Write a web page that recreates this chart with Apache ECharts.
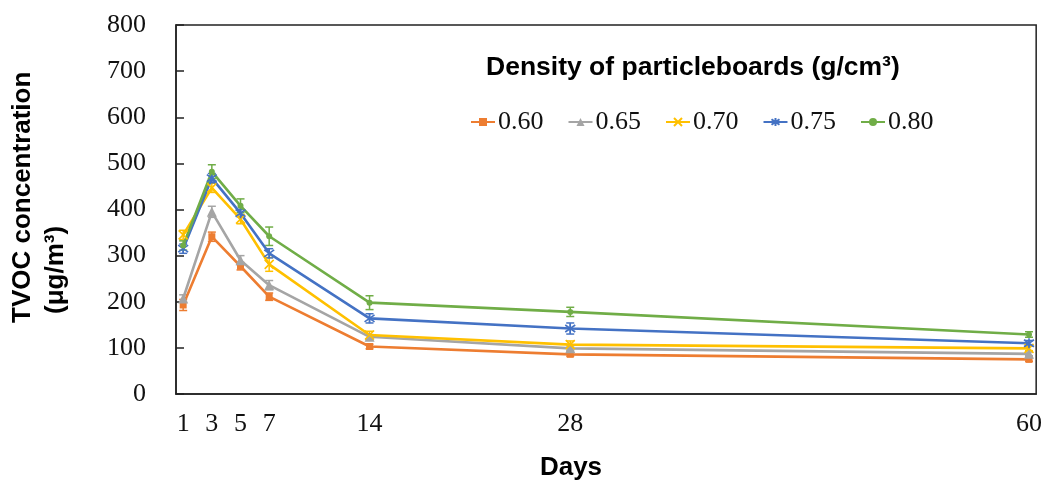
<!DOCTYPE html>
<html>
<head>
<meta charset="utf-8">
<script src="https://cdn.jsdelivr.net/npm/echarts@6/dist/echarts.min.js"></script>
<style>
    html, body { margin: 0; padding: 0; background: #fff; }
    #chart { width: 1045px; height: 481px; }
</style>
</head>
<body>
<div id="chart"></div>
<script type="text/javascript">
    // sampling days
    var days = [1, 3, 5, 7, 14, 28, 60];
    var dayTicks = [1, 3, 5, 7, 14, 28, 60];

    // TVOC concentration (ug/m3) per density
    var names = ['0.60', '0.65', '0.70', '0.75', '0.80'];
    var s060 = [193, 341, 277, 211, 103, 86, 75];
    var s065 = [207, 395, 290, 236, 124, 99, 87];
    var s070 = [345, 447, 379, 281, 128, 107, 99];
    var s075 = [315, 468, 392, 305, 164, 142, 110];
    var s080 = [322, 482, 408, 342, 198, 178, 129];

    // error bar half-heights
    var e060 = [12, 10, 8, 8, 5, 4, 4];
    var e065 = [8, 12, 10, 10, 5, 5, 4];
    var e070 = [10, 10, 10, 15, 8, 8, 5];
    var e075 = [10, 10, 8, 10, 10, 12, 6];
    var e080 = [10, 15, 15, 20, 15, 10, 6];

    var values = [s060, s065, s070, s075, s080];
    var errors = [e060, e065, e070, e075, e080];
    var colors = ['#ED7D31', '#A5A5A5', '#FFC000', '#4472C4', '#70AD47'];
    var symbols = [
        'rect',
        'triangle',
        'path://M0,0L10,10M10,0L0,10',
        'path://M5,0L5,10M0,1.5L10,8.5M10,1.5L0,8.5',
        'circle'
    ];
    var symbolSizes = [7, 10, 9, 10, 6];

    var serif = '"Liberation Serif", "Times New Roman", serif';
    var sans = '"Liberation Sans", Arial, sans-serif';

    function errorBar(color) {
        return function (params, api) {
            var x = api.value(0), y = api.value(1), e = api.value(2);
            var lo = api.coord([x, y - e]);
            var hi = api.coord([x, y + e]);
            var w = 4;
            var st = { stroke: color, lineWidth: 1.5 };
            return {
                type: 'group',
                children: [
                    { type: 'line', shape: { x1: lo[0], y1: lo[1], x2: hi[0], y2: hi[1] }, style: st },
                    { type: 'line', shape: { x1: lo[0] - w, y1: lo[1], x2: lo[0] + w, y2: lo[1] }, style: st },
                    { type: 'line', shape: { x1: hi[0] - w, y1: hi[1], x2: hi[0] + w, y2: hi[1] }, style: st }
                ]
            };
        };
    }

    var series = [];
    for (var k = 0; k < names.length; k++) {
        series.push({
            type: 'custom',
            name: names[k] + ' err',
            renderItem: errorBar(colors[k]),
            encode: { x: 0, y: 1 },
            data: days.map(function (d, i) { return [d, values[k][i], errors[k][i]]; }),
            z: 3
        });
    }
    for (var j = 0; j < names.length; j++) {
        series.push({
            type: 'line',
            name: names[j],
            data: days.map(function (d, i) { return [d, values[j][i]]; }),
            symbol: symbols[j],
            symbolSize: symbolSizes[j],
            showAllSymbol: true,
            lineStyle: { color: colors[j], width: 2.6 },
            itemStyle: { color: colors[j], borderColor: colors[j], borderWidth: (j === 2 || j === 3) ? 1.6 : 0 },
            z: 4
        });
    }

    var chart = echarts.init(document.getElementById('chart'));
    chart.setOption({
        animation: false,
        backgroundColor: '#fff',
        grid: {
            left: 176, right: 8, top: 25, bottom: 87,
            show: true, borderColor: '#222', borderWidth: 1.5
        },
        legend: {
            data: names,
            left: 465,
            top: 104,
            itemWidth: 24,
            itemHeight: 10,
            itemGap: 24,
            textStyle: { fontFamily: serif, fontSize: 26, color: '#111', padding: [0, 0, 0, -2] }
        },
        xAxis: {
            type: 'value',
            min: 0.5,
            max: 60.5,
            axisLine: { show: true, lineStyle: { color: '#222', width: 1.5 } },
            axisTick: { show: false },
            splitLine: { show: false },
            axisLabel: {
                customValues: dayTicks,
                margin: 17,
                fontFamily: serif,
                fontSize: 26,
                color: '#111'
            }
        },
        yAxis: {
            type: 'value',
            min: 0,
            max: 800,
            interval: 100,
            axisLine: { show: true, lineStyle: { color: '#222', width: 1.5 } },
            axisTick: { show: true, inside: true, length: 8, lineStyle: { color: '#222', width: 1.5 } },
            splitLine: { show: false },
            axisLabel: {
                margin: 30,
                fontFamily: serif,
                fontSize: 26,
                color: '#111'
            }
        },
        graphic: [
            {
                type: 'text', left: 486, top: 54,
                style: { text: 'Density of particleboards (g/cm³)', font: 'bold 26.5px ' + sans, fill: '#000' }
            },
            {
                type: 'text', x: 23, y: 323, rotation: Math.PI / 2,
                style: { text: 'TVOC concentration', font: 'bold 26px ' + sans, fill: '#000', textAlign: 'left', textVerticalAlign: 'middle' }
            },
            {
                type: 'text', x: 56, y: 314, rotation: Math.PI / 2,
                style: { text: '(μg/m³)', font: 'bold 26px ' + sans, fill: '#000', textAlign: 'left', textVerticalAlign: 'middle' }
            },
            {
                type: 'text', x: 571, y: 468,
                style: { text: 'Days', font: 'bold 26px ' + sans, fill: '#000', textAlign: 'center', textVerticalAlign: 'middle' }
            }
        ],
        series: series
    });
</script>
</body>
</html>
